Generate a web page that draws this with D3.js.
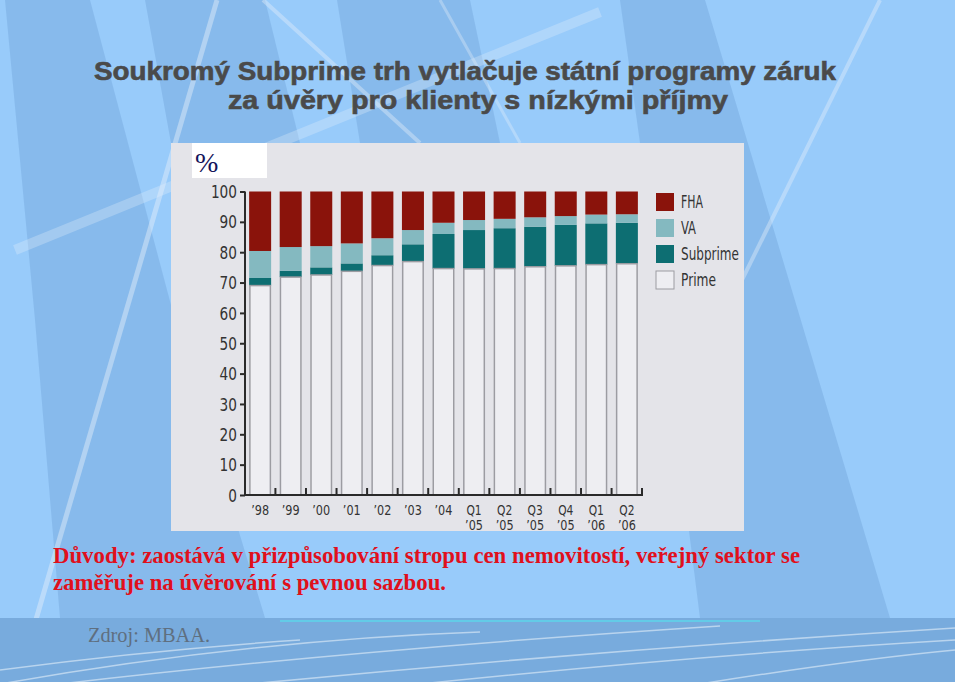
<!DOCTYPE html>
<html><head><meta charset="utf-8">
<script src="https://cdn.jsdelivr.net/npm/d3@7/dist/d3.min.js"></script>
<style>html,body{margin:0;padding:0;overflow:hidden;background:#fff}</style>
</head><body>
<svg id="c" width="960" height="684"></svg>
<script>
// ---- data ----
const categories = ["’98","’99","’00","’01","’02","’03","’04","Q1|’05","Q2|’05","Q3|’05","Q4|’05","Q1|’06","Q2|’06"];
const prime    = [69.0, 71.8, 72.5, 73.7, 75.6, 76.9, 74.6, 74.5, 74.6, 75.2, 75.5, 75.9, 76.2];
const subprime = [ 2.5,  2.1,  2.5,  2.6,  3.4,  5.7, 11.4, 12.8, 13.3, 13.2, 13.5, 13.6, 13.5];
const va       = [ 8.9,  7.8,  7.0,  6.6,  5.6,  4.7,  3.7,  3.3,  3.1,  3.1,  2.9,  2.9,  2.8];
const fha      = [19.6, 18.3, 18.0, 17.1, 15.4, 12.7, 10.3,  9.4,  9.0,  8.5,  8.1,  7.6,  7.5];
const seriesNames = ["Prime","Subprime","VA","FHA"];
const legendOrder = ["FHA","VA","Subprime","Prime"];
const yTicks = [0,10,20,30,40,50,60,70,80,90,100];
const titleLines = ["Soukromý Subprime trh vytlačuje státní programy záruk","za úvěry pro klienty s nízkými příjmy"];
const noteLines = ["Důvody: zaostává v přizpůsobování stropu cen nemovitostí, veřejný sektor se","zaměřuje na úvěrování s pevnou sazbou."];
const sourceText = "Zdroj: MBAA.";

const colors = {Prime:"#eeeef2", Subprime:"#0d6e72", VA:"#84b9c0", FHA:"#8a130b"};

const svg = d3.select("#c");

const charW = ch => ("’'".includes(ch) ? 3.5 : "Q".includes(ch) ? 8 : /[0-9]/.test(ch) ? 7.2 : 7);
const narrowLen = s => Array.from(s).reduce((a,c)=>a+charW(c),0);

// ---- background ----
svg.append("rect").attr("width",960).attr("height",684).attr("fill","#98cbfa");
const bg = svg.append("g");
const darkPolys = [
  [[5,0],[90,0],[175,320],[265,618],[60,618],[35,320]],
  [[145,0],[265,0],[300,143],[171,143]],
  [[337,0],[470,0],[500,143],[360,143]],
  [[620,0],[705,0],[890,618],[700,618],[640,143]]
];
darkPolys.forEach(p=>bg.append("polygon").attr("points",p.map(d=>d.join(",")).join(" "))
  .attr("fill","#5d8fc8").attr("opacity",0.28));
const lightLines = [
  [[217,0],[30,640],5,0.45],
  [[15,250],[600,12],10,0.3],
  [[263,0],[420,143],4,0.4],
  [[440,0],[520,143],3,0.35],
  [[880,0],[705,355],4,0.4]
];
lightLines.forEach(l=>bg.append("line").attr("x1",l[0][0]).attr("y1",l[0][1]).attr("x2",l[1][0]).attr("y2",l[1][1])
  .attr("stroke","#e6f0fa").attr("stroke-width",l[2]).attr("opacity",l[3]));
bg.append("rect").attr("x",0).attr("y",618).attr("width",960).attr("height",66).attr("fill","#78abdd");
bg.append("line").attr("x1",280).attr("x2",760).attr("y1",621).attr("y2",621).attr("stroke","#5fd3ea").attr("stroke-width",2).attr("opacity",0.8);
const curves = [
  "M0,684 Q250,640 480,632","M60,684 Q350,650 720,626","M250,684 Q600,650 955,628",
  "M420,684 Q700,655 955,640","M0,670 Q150,650 300,640","M700,684 Q850,660 955,650"
];
curves.forEach(c=>bg.append("path").attr("d",c).attr("fill","none").attr("stroke","#eef5fc").attr("stroke-width",1.5).attr("opacity",0.55));
svg.append("rect").attr("x",955).attr("y",0).attr("width",5).attr("height",684).attr("fill","#ffffff");
svg.append("rect").attr("x",0).attr("y",682).attr("width",960).attr("height",2).attr("fill","#ffffff");

// ---- title ----
const titleG = svg.append("g").attr("font-family","'Liberation Sans', Arial, sans-serif").attr("font-weight","bold")
  .attr("font-size",25).attr("fill","#4a4a4a").attr("stroke","#4a4a4a").attr("stroke-width",0.6);
titleG.append("text").attr("x",94).attr("y",80).attr("textLength",742).attr("lengthAdjust","spacingAndGlyphs").text(titleLines[0]);
titleG.append("text").attr("x",228).attr("y",109).attr("textLength",500).attr("lengthAdjust","spacingAndGlyphs").text(titleLines[1]);

// ---- panel ----
svg.append("rect").attr("x",171).attr("y",143).attr("width",573).attr("height",388).attr("fill","#e4e4e9");
svg.append("rect").attr("x",192).attr("y",143).attr("width",75).attr("height",35).attr("fill","#ffffff");
svg.append("text").attr("x",195).attr("y",172).attr("font-family","'Liberation Serif', 'Times New Roman', serif")
  .attr("font-size",28).attr("fill","#14145a").text("%");

// ---- scales ----
const x = d3.scaleBand().domain(categories).range([245,642]).paddingInner(0.28).paddingOuter(0.135);
const y = d3.scaleLinear().domain([0,100]).range([495,191.5]);

const rows = categories.map((c,i)=>({cat:c, Prime:prime[i], Subprime:subprime[i], VA:va[i], FHA:fha[i]}));
const stacked = d3.stack().keys(seriesNames)(rows);

const barsG = svg.append("g");
stacked.forEach(layer=>{
  barsG.selectAll(null).data(layer).join("rect")
    .attr("x",d=>x(d.data.cat)).attr("width",x.bandwidth())
    .attr("y",d=>y(d[1])).attr("height",d=>y(d[0])-y(d[1]))
    .attr("fill",colors[layer.key]);
});
barsG.selectAll(null).data(stacked[0]).join("rect")
  .attr("x",d=>x(d.data.cat)+0.75).attr("width",x.bandwidth()-1.5)
  .attr("y",d=>y(d[1])).attr("height",d=>y(d[0])-y(d[1]))
  .attr("fill","none").attr("stroke","#9c9ca2").attr("stroke-width",1.5);

const font = "'DejaVu Sans Condensed', 'Liberation Sans Narrow', sans-serif";

// ---- y axis ----
const yAxis = d3.axisLeft(y).tickValues(yTicks).tickSize(5).tickPadding(3);
const yg = svg.append("g").attr("transform","translate(245,0)").call(yAxis);
yg.select(".domain").attr("stroke","#2a2a2a").attr("stroke-width",2).attr("d","M0,"+y(100)+"V"+y(0));
yg.selectAll(".tick line").attr("stroke","#2a2a2a").attr("stroke-width",2);
yg.selectAll(".tick text").attr("font-family",font).attr("font-size",17).attr("fill","#333").attr("dy","0.36em")
  .attr("textLength",d=>String(d).length*8.7).attr("lengthAdjust","spacingAndGlyphs");

// ---- x axis ----
const xg = svg.append("g");
xg.append("line").attr("x1",244).attr("x2",643).attr("y1",y(0)).attr("y2",y(0)).attr("stroke","#2a2a2a").attr("stroke-width",2);
const step = x.step();
const sepPos = categories.map(c=>x(c)+x.bandwidth()+(step-x.bandwidth())/2);
sepPos[sepPos.length-1] = 642;
xg.selectAll(null).data(sepPos).join("line")
  .attr("x1",d=>d).attr("x2",d=>d).attr("y1",y(0)).attr("y2",y(0)-7)
  .attr("stroke","#2a2a2a").attr("stroke-width",2);
categories.forEach(c=>{
  const t = xg.append("text").attr("font-family",font).attr("font-size",14).attr("fill","#333").attr("text-anchor","middle");
  c.split("|").forEach((p,j)=>{
    t.append("tspan").attr("x",x(c)+x.bandwidth()/2).attr("y",515+j*15)
      .attr("textLength",narrowLen(p)).attr("lengthAdjust","spacingAndGlyphs").text(p);
  });
});

// ---- legend ----
const legendLen = {FHA:22, VA:15, Subprime:58, Prime:35};
const lg = svg.append("g");
legendOrder.forEach((k,i)=>{
  const yy = 193 + i*26;
  lg.append("rect").attr("x",656).attr("y",yy).attr("width",18).attr("height",18)
    .attr("fill",colors[k]).attr("stroke",k==="Prime"?"#9c9ca2":"none").attr("stroke-width",1);
  lg.append("text").attr("x",681).attr("y",yy+9).attr("dy","0.36em").attr("font-family",font)
    .attr("font-size",17).attr("fill","#333").attr("textLength",legendLen[k]).attr("lengthAdjust","spacingAndGlyphs").text(k);
});

// ---- note ----
const ng = svg.append("g").attr("font-family","'Liberation Serif', 'Times New Roman', serif").attr("font-weight","bold")
  .attr("font-size",23).attr("fill","#e0101c");
ng.append("text").attr("x",53).attr("y",563).attr("textLength",747).attr("lengthAdjust","spacingAndGlyphs").text(noteLines[0]);
ng.append("text").attr("x",53).attr("y",590).attr("textLength",393).attr("lengthAdjust","spacingAndGlyphs").text(noteLines[1]);

svg.append("text").attr("x",88).attr("y",642).attr("font-family","'Liberation Serif', 'Times New Roman', serif")
  .attr("font-size",20).attr("fill","#5f6f80").attr("textLength",122).attr("lengthAdjust","spacingAndGlyphs").text(sourceText);
</script>
</body></html>
